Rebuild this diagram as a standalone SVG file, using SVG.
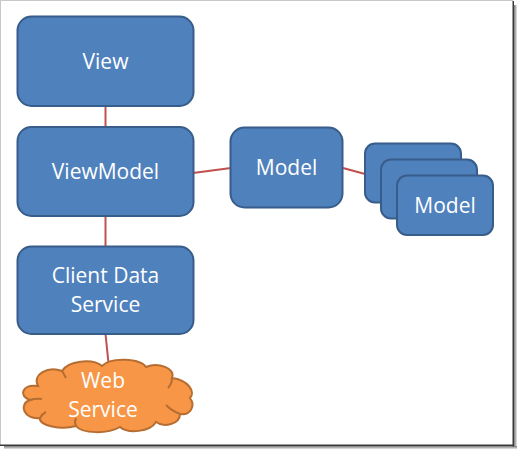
<svg xmlns="http://www.w3.org/2000/svg" width="517" height="449" viewBox="0 0 517 449">
<defs>
<style>
.box{fill:#4F81BD;stroke:#385D8A;stroke-width:2}
.lbl{fill:#FFFFFF;font-family:"Open Sans","Liberation Sans",sans-serif;font-size:21px;text-anchor:middle}
.conn{stroke:#C0504D;stroke-width:2;fill:none}
.cloud{fill:#F79646;stroke:#B66D31;stroke-width:2}
.cloudin{fill:none;stroke:#B66D31;stroke-width:2}
</style>
<linearGradient id="shR" x1="0" y1="0" x2="1" y2="0">
<stop offset="0" stop-color="#7a7a7a"/>
<stop offset="1" stop-color="#e6e6e6"/>
</linearGradient>
<linearGradient id="shB" x1="0" y1="0" x2="0" y2="1">
<stop offset="0" stop-color="#7a7a7a"/>
<stop offset="1" stop-color="#e6e6e6"/>
</linearGradient>
</defs>
<g id="frame">
<rect x="0" y="0" width="517" height="449" fill="#FFFFFF"/>
<rect x="514" y="5" width="3" height="444" fill="url(#shR)"/>
<rect x="4" y="446" width="513" height="3" fill="url(#shB)"/>
<line x1="0" y1="0.5" x2="513" y2="0.5" stroke="#C8C8C8" stroke-width="1"/>
<line x1="0.5" y1="0" x2="0.5" y2="445" stroke="#C8C8C8" stroke-width="1"/>
<rect x="512.5" y="1" width="1.5" height="445.5" fill="#3A3A3A"/>
<rect x="0" y="444.5" width="514" height="1.5" fill="#3A3A3A"/>
</g>
<g id="connectors">
<line class="conn" x1="105.5" y1="106" x2="105.5" y2="127"/>
<line class="conn" x1="193" y1="173" x2="231" y2="168"/>
<line class="conn" x1="343" y1="168" x2="365" y2="174"/>
<line class="conn" x1="105.5" y1="216" x2="105.5" y2="246.5"/>
<line class="conn" x1="105.5" y1="334" x2="109" y2="368"/>
</g>
<g id="view">
<rect class="box" x="17.5" y="16.5" width="176" height="89.5" rx="14"/>
<text class="lbl" x="105.5" y="69">View</text>
</g>
<g id="viewmodel">
<rect class="box" x="17.5" y="127" width="176" height="89" rx="14"/>
<text class="lbl" x="105.5" y="179">ViewModel</text>
</g>
<g id="model">
<rect class="box" x="230.5" y="127.5" width="112" height="80" rx="14"/>
<text class="lbl" x="286.5" y="175">Model</text>
</g>
<g id="models">
<rect class="box" x="365" y="143.5" width="96" height="59" rx="10"/>
<rect class="box" x="381" y="159.5" width="96" height="59" rx="10"/>
<rect class="box" x="397" y="175.5" width="96" height="59.5" rx="10"/>
<text class="lbl" x="445" y="213">Model</text>
</g>
<g id="client-data-service">
<rect class="box" x="17.5" y="246.5" width="176" height="87.5" rx="14"/>
<text class="lbl" x="105.5" y="283">Client Data</text>
<text class="lbl" x="105.5" y="311.5">Service</text>
</g>
<g id="web-service">
<path class="cloud" d="M 38,386 C 32,374 48,366 62,371 C 68,361 92,358 102,366 C 110,357 140,358 146,367 C 158,362 176,368 172,378 C 188,380 196,392 190,398 C 196,406 190,416 180,414 C 180,424 164,428 156,422 C 150,432 128,434 120,427 C 108,434 82,434 76,426 C 62,430 38,426 40,418 C 24,420 18,404 30,400 C 18,396 22,384 38,386 Z"/>
<path class="cloudin" d="M 30,400 Q 36,398 42,399 M 172,378 Q 172,384 168,388 M 180,414 Q 172,411 166,405 M 76,426 Q 74,422 76,418 M 62,371 Q 64,374 66,378 M 40,418 Q 42,414 46,412"/>
<text class="lbl" x="103" y="388">Web</text>
<text class="lbl" x="103" y="416.5">Service</text>
</g>
</svg>
